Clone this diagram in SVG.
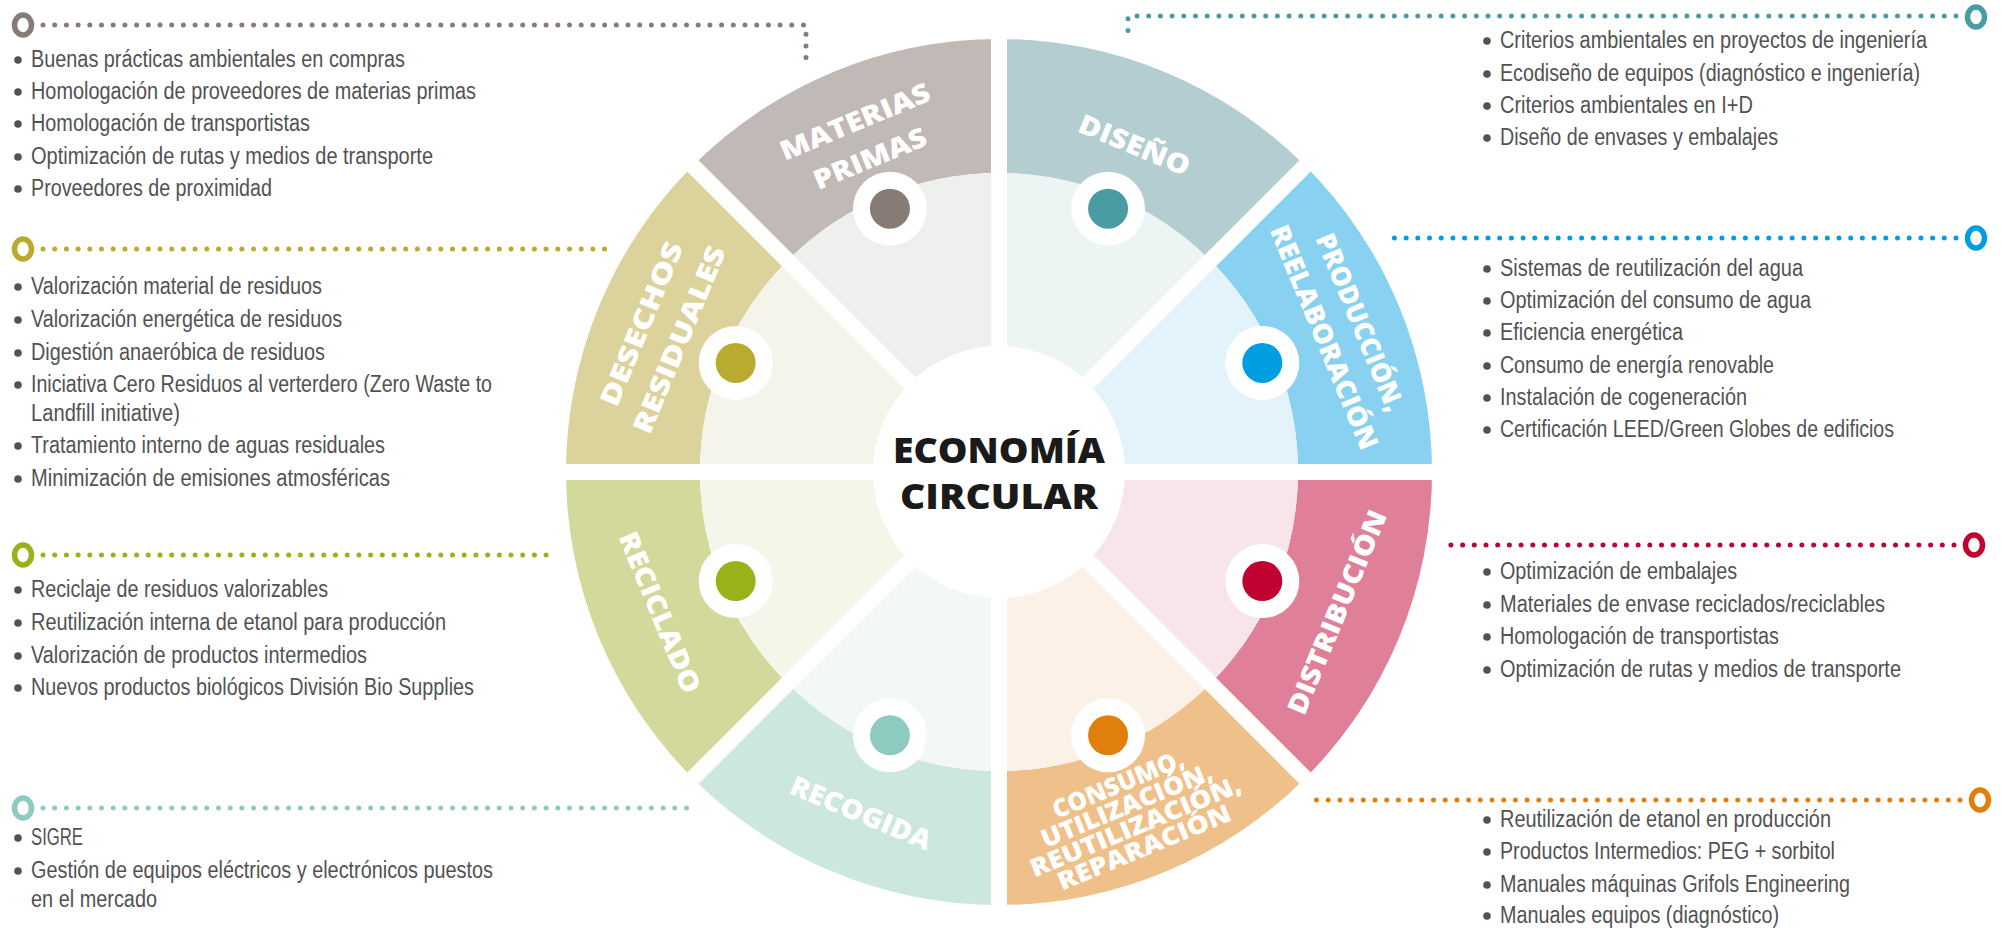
<svg xmlns="http://www.w3.org/2000/svg" width="2002" height="928" viewBox="0 0 2002 928">
<style>
.lst{font-family:"Liberation Sans Narrow","Liberation Sans",Arial,sans-serif;font-size:23px;fill:#525252}
.bul{fill:#525252}
.lbl{font-family:"Open Sans","DejaVu Sans",sans-serif;font-weight:800;font-size:27px;fill:#ffffff;text-anchor:middle}
.lbs{font-family:"Open Sans","DejaVu Sans",sans-serif;font-weight:800;font-size:25px;fill:#ffffff;text-anchor:middle}
.ctr{font-family:"Open Sans","DejaVu Sans",sans-serif;font-weight:800;font-size:36px;fill:#1a1a1a;text-anchor:middle}
.dots{fill:none;stroke-width:5;stroke-linecap:round;stroke-dasharray:0 11.7}
.ring{fill:none;stroke-width:5.5}
.mk{fill:#ffffff}
.sep{stroke:#ffffff;stroke-width:16;fill:none}
</style>
<rect width="2002" height="928" fill="#ffffff"/>

<!-- connectors -->
<g id="connectors">
  <path class="dots" stroke="#877b76" d="M43 25 H806 V64"/>
  <ellipse class="ring" stroke="#877b76" cx="23" cy="25" rx="8.5" ry="10"/>
  <path class="dots" stroke="#b9aa30" d="M43 249 H608"/>
  <ellipse class="ring" stroke="#b9aa30" cx="23" cy="249" rx="8.5" ry="10"/>
  <path class="dots" stroke="#9ab21a" d="M43 555 H556"/>
  <ellipse class="ring" stroke="#9ab21a" cx="23" cy="555" rx="8.5" ry="10"/>
  <path class="dots" stroke="#8dcac0" d="M43 808 H697"/>
  <ellipse class="ring" stroke="#8dcac0" cx="23" cy="808" rx="8.5" ry="10"/>
  <path class="dots" stroke="#4a9ca4" d="M1956 16 H1128 V38"/>
  <ellipse class="ring" stroke="#4a9ca4" cx="1976" cy="17" rx="8.5" ry="10"/>
  <path class="dots" stroke="#009ee0" d="M1956 238 H1386"/>
  <ellipse class="ring" stroke="#009ee0" cx="1976" cy="238" rx="8.5" ry="10"/>
  <path class="dots" stroke="#c10230" d="M1954 545 H1445"/>
  <ellipse class="ring" stroke="#c10230" cx="1974" cy="545" rx="8.5" ry="10"/>
  <path class="dots" stroke="#e07f0c" d="M1960 800 H1310"/>
  <ellipse class="ring" stroke="#e07f0c" cx="1980" cy="800" rx="8.5" ry="10"/>
</g>

<!-- wheel sectors -->
<g id="diseno">
  <path fill="#b3cdd1" d="M999,39 A433,433 0 0 1 1305.18,165.82 L1210.43,260.57 A299,299 0 0 0 999,173 Z"/>
  <path fill="#edf4f4" d="M999,472 L999,173 A299,299 0 0 1 1210.43,260.57 Z"/>
  <g transform="translate(1134.5,145) rotate(22.5)"><text class="lbl" x="0" y="9.5" textLength="118" lengthAdjust="spacingAndGlyphs">DISEÑO</text></g>
</g>
<g id="produccion">
  <path fill="#89d1f0" d="M1305.18,165.82 A433,433 0 0 1 1432,472 L1298,472 A299,299 0 0 0 1210.43,260.57 Z"/>
  <path fill="#e3f3fb" d="M999,472 L1210.43,260.57 A299,299 0 0 1 1298,472 Z"/>
  <g transform="translate(1360.2,322.4) rotate(67.5)"><text class="lbl" x="0" y="9.5" textLength="190" lengthAdjust="spacingAndGlyphs">PRODUCCIÓN,</text></g>
  <g transform="translate(1324.2,337.3) rotate(67.5)"><text class="lbl" x="0" y="9.5" textLength="240" lengthAdjust="spacingAndGlyphs">REELABORACIÓN</text></g>
</g>
<g id="distribucion">
  <path fill="#df8098" d="M1432,472 A433,433 0 0 1 1305.18,778.18 L1210.43,683.43 A299,299 0 0 0 1298,472 Z"/>
  <path fill="#f8e5ea" d="M999,472 L1298,472 A299,299 0 0 1 1210.43,683.43 Z"/>
  <g transform="translate(1337.1,612.1) rotate(-67.5)"><text class="lbl" x="0" y="9.5" textLength="218" lengthAdjust="spacingAndGlyphs">DISTRIBUCIÓN</text></g>
</g>
<g id="consumo">
  <path fill="#f0c08b" d="M1305.18,778.18 A433,433 0 0 1 999,905 L999,771 A299,299 0 0 0 1210.43,683.43 Z"/>
  <path fill="#fcf1e7" d="M999,472 L1210.43,683.43 A299,299 0 0 1 999,771 Z"/>
  <g transform="translate(1118,784) rotate(-22.5)"><text class="lbs" x="0" y="9" textLength="140" lengthAdjust="spacingAndGlyphs">CONSUMO,</text></g>
  <g transform="translate(1126.7,805) rotate(-22.5)"><text class="lbs" x="0" y="9" textLength="183" lengthAdjust="spacingAndGlyphs">UTILIZACIÓN,</text></g>
  <g transform="translate(1135.4,826) rotate(-22.5)"><text class="lbs" x="0" y="9" textLength="226" lengthAdjust="spacingAndGlyphs">REUTILIZACIÓN,</text></g>
  <g transform="translate(1144.1,847) rotate(-22.5)"><text class="lbs" x="0" y="9" textLength="185" lengthAdjust="spacingAndGlyphs">REPARACIÓN</text></g>
</g>
<g id="recogida">
  <path fill="#cce6e0" d="M999,905 A433,433 0 0 1 692.82,778.18 L787.57,683.43 A299,299 0 0 0 999,771 Z"/>
  <path fill="#f3f8f6" d="M999,472 L999,771 A299,299 0 0 1 787.57,683.43 Z"/>
  <g transform="translate(861,813) rotate(22.5)"><text class="lbl" x="0" y="9.5" textLength="150" lengthAdjust="spacingAndGlyphs">RECOGIDA</text></g>
</g>
<g id="reciclado">
  <path fill="#d3d99b" d="M692.82,778.18 A433,433 0 0 1 566,472 L700,472 A299,299 0 0 0 787.57,683.43 Z"/>
  <path fill="#f5f6ea" d="M999,472 L787.57,683.43 A299,299 0 0 1 700,472 Z"/>
  <g transform="translate(659.9,612.4) rotate(67.5)"><text class="lbl" x="0" y="9.5" textLength="172" lengthAdjust="spacingAndGlyphs">RECICLADO</text></g>
</g>
<g id="desechos">
  <path fill="#dcd39c" d="M566,472 A433,433 0 0 1 692.82,165.82 L787.57,260.57 A299,299 0 0 0 700,472 Z"/>
  <path fill="#f5f4ea" d="M999,472 L700,472 A299,299 0 0 1 787.57,260.57 Z"/>
  <g transform="translate(641.5,323.9) rotate(-67.5)"><text class="lbl" x="0" y="9.5" textLength="175" lengthAdjust="spacingAndGlyphs">DESECHOS</text></g>
  <g transform="translate(679.3,339.6) rotate(-67.5)"><text class="lbl" x="0" y="9.5" textLength="200" lengthAdjust="spacingAndGlyphs">RESIDUALES</text></g>
</g>
<g id="materias">
  <path fill="#c1b9b6" d="M692.82,165.82 A433,433 0 0 1 999,39 L999,173 A299,299 0 0 0 787.57,260.57 Z"/>
  <path fill="#efefed" d="M999,472 L787.57,260.57 A299,299 0 0 1 999,173 Z"/>
  <g transform="translate(855,121.5) rotate(-22.5)"><text class="lbl" x="0" y="9.5" textLength="160" lengthAdjust="spacingAndGlyphs">MATERIAS</text></g>
  <g transform="translate(870,158.5) rotate(-22.5)"><text class="lbl" x="0" y="9.5" textLength="120" lengthAdjust="spacingAndGlyphs">PRIMAS</text></g>
</g>

<!-- separators and centre -->
<g id="separators">
  <path class="sep" d="M999,28 V916 M555,472 H1443 M687.9,783.1 L1310.1,160.9 M687.9,160.9 L1310.1,783.1"/>
</g>
<g id="markers">
  <circle class="mk" cx="1108.07" cy="208.69" r="37"/><circle fill="#4a9ca4" cx="1108.07" cy="208.69" r="20"/>
  <circle class="mk" cx="1262.31" cy="362.93" r="37"/><circle fill="#009ee0" cx="1262.31" cy="362.93" r="20"/>
  <circle class="mk" cx="1262.31" cy="581.07" r="37"/><circle fill="#c10230" cx="1262.31" cy="581.07" r="20"/>
  <circle class="mk" cx="1108.07" cy="735.31" r="37"/><circle fill="#e07f0c" cx="1108.07" cy="735.31" r="20"/>
  <circle class="mk" cx="889.93" cy="735.31" r="37"/><circle fill="#8dcac0" cx="889.93" cy="735.31" r="20"/>
  <circle class="mk" cx="735.69" cy="581.07" r="37"/><circle fill="#9ab21a" cx="735.69" cy="581.07" r="20"/>
  <circle class="mk" cx="735.69" cy="362.93" r="37"/><circle fill="#b9aa30" cx="735.69" cy="362.93" r="20"/>
  <circle class="mk" cx="889.93" cy="208.69" r="37"/><circle fill="#877b76" cx="889.93" cy="208.69" r="20"/>
</g>
<g id="centro">
  <circle fill="#ffffff" cx="999" cy="472" r="126"/>
  <text class="ctr" x="999" y="463" textLength="212" lengthAdjust="spacingAndGlyphs">ECONOMÍA</text>
  <text class="ctr" x="999" y="509" textLength="198" lengthAdjust="spacingAndGlyphs">CIRCULAR</text>
</g>

<!-- lists -->
<g id="lista-materias">
  <circle class="bul" cx="18" cy="60" r="3.8"/><text class="lst" x="31" y="67" textLength="374" lengthAdjust="spacingAndGlyphs">Buenas prácticas ambientales en compras</text>
  <circle class="bul" cx="18" cy="92" r="3.8"/><text class="lst" x="31" y="99" textLength="445" lengthAdjust="spacingAndGlyphs">Homologación de proveedores de materias primas</text>
  <circle class="bul" cx="18" cy="124" r="3.8"/><text class="lst" x="31" y="131" textLength="279" lengthAdjust="spacingAndGlyphs">Homologación de transportistas</text>
  <circle class="bul" cx="18" cy="157" r="3.8"/><text class="lst" x="31" y="164" textLength="402" lengthAdjust="spacingAndGlyphs">Optimización de rutas y medios de transporte</text>
  <circle class="bul" cx="18" cy="189" r="3.8"/><text class="lst" x="31" y="196" textLength="241" lengthAdjust="spacingAndGlyphs">Proveedores de proximidad</text>
</g>
<g id="lista-desechos">
  <circle class="bul" cx="18" cy="287" r="3.8"/><text class="lst" x="31" y="294" textLength="291" lengthAdjust="spacingAndGlyphs">Valorización material de residuos</text>
  <circle class="bul" cx="18" cy="320" r="3.8"/><text class="lst" x="31" y="327" textLength="311" lengthAdjust="spacingAndGlyphs">Valorización energética de residuos</text>
  <circle class="bul" cx="18" cy="353" r="3.8"/><text class="lst" x="31" y="360" textLength="294" lengthAdjust="spacingAndGlyphs">Digestión anaeróbica de residuos</text>
  <circle class="bul" cx="18" cy="385" r="3.8"/><text class="lst" x="31" y="392" textLength="461" lengthAdjust="spacingAndGlyphs">Iniciativa Cero Residuos al verterdero (Zero Waste to</text>
  <text class="lst" x="31" y="421" textLength="149" lengthAdjust="spacingAndGlyphs">Landfill initiative)</text>
  <circle class="bul" cx="18" cy="446" r="3.8"/><text class="lst" x="31" y="453" textLength="354" lengthAdjust="spacingAndGlyphs">Tratamiento interno de aguas residuales</text>
  <circle class="bul" cx="18" cy="479" r="3.8"/><text class="lst" x="31" y="486" textLength="359" lengthAdjust="spacingAndGlyphs">Minimización de emisiones atmosféricas</text>
</g>
<g id="lista-reciclado">
  <circle class="bul" cx="18" cy="590" r="3.8"/><text class="lst" x="31" y="597" textLength="297" lengthAdjust="spacingAndGlyphs">Reciclaje de residuos valorizables</text>
  <circle class="bul" cx="18" cy="623" r="3.8"/><text class="lst" x="31" y="630" textLength="415" lengthAdjust="spacingAndGlyphs">Reutilización interna de etanol para producción</text>
  <circle class="bul" cx="18" cy="656" r="3.8"/><text class="lst" x="31" y="663" textLength="336" lengthAdjust="spacingAndGlyphs">Valorización de productos intermedios</text>
  <circle class="bul" cx="18" cy="688" r="3.8"/><text class="lst" x="31" y="695" textLength="443" lengthAdjust="spacingAndGlyphs">Nuevos productos biológicos División Bio Supplies</text>
</g>
<g id="lista-recogida">
  <circle class="bul" cx="18" cy="838" r="3.8"/><text class="lst" x="31" y="845" textLength="52" lengthAdjust="spacingAndGlyphs">SIGRE</text>
  <circle class="bul" cx="18" cy="871" r="3.8"/><text class="lst" x="31" y="878" textLength="462" lengthAdjust="spacingAndGlyphs">Gestión de equipos eléctricos y electrónicos puestos</text>
  <text class="lst" x="31" y="907" textLength="126" lengthAdjust="spacingAndGlyphs">en el mercado</text>
</g>
<g id="lista-diseno">
  <circle class="bul" cx="1487" cy="41" r="3.8"/><text class="lst" x="1500" y="48" textLength="427" lengthAdjust="spacingAndGlyphs">Criterios ambientales en proyectos de ingeniería</text>
  <circle class="bul" cx="1487" cy="74" r="3.8"/><text class="lst" x="1500" y="81" textLength="420" lengthAdjust="spacingAndGlyphs">Ecodiseño de equipos (diagnóstico e ingeniería)</text>
  <circle class="bul" cx="1487" cy="106" r="3.8"/><text class="lst" x="1500" y="113" textLength="253" lengthAdjust="spacingAndGlyphs">Criterios ambientales en I+D</text>
  <circle class="bul" cx="1487" cy="138" r="3.8"/><text class="lst" x="1500" y="145" textLength="278" lengthAdjust="spacingAndGlyphs">Diseño de envases y embalajes</text>
</g>
<g id="lista-produccion">
  <circle class="bul" cx="1487" cy="269" r="3.8"/><text class="lst" x="1500" y="276" textLength="303" lengthAdjust="spacingAndGlyphs">Sistemas de reutilización del agua</text>
  <circle class="bul" cx="1487" cy="301" r="3.8"/><text class="lst" x="1500" y="308" textLength="311" lengthAdjust="spacingAndGlyphs">Optimización del consumo de agua</text>
  <circle class="bul" cx="1487" cy="333" r="3.8"/><text class="lst" x="1500" y="340" textLength="183" lengthAdjust="spacingAndGlyphs">Eficiencia energética</text>
  <circle class="bul" cx="1487" cy="366" r="3.8"/><text class="lst" x="1500" y="373" textLength="274" lengthAdjust="spacingAndGlyphs">Consumo de energía renovable</text>
  <circle class="bul" cx="1487" cy="398" r="3.8"/><text class="lst" x="1500" y="405" textLength="247" lengthAdjust="spacingAndGlyphs">Instalación de cogeneración</text>
  <circle class="bul" cx="1487" cy="430" r="3.8"/><text class="lst" x="1500" y="437" textLength="394" lengthAdjust="spacingAndGlyphs">Certificación LEED/Green Globes de edificios</text>
</g>
<g id="lista-distribucion">
  <circle class="bul" cx="1487" cy="572" r="3.8"/><text class="lst" x="1500" y="579" textLength="237" lengthAdjust="spacingAndGlyphs">Optimización de embalajes</text>
  <circle class="bul" cx="1487" cy="605" r="3.8"/><text class="lst" x="1500" y="612" textLength="385" lengthAdjust="spacingAndGlyphs">Materiales de envase reciclados/reciclables</text>
  <circle class="bul" cx="1487" cy="637" r="3.8"/><text class="lst" x="1500" y="644" textLength="279" lengthAdjust="spacingAndGlyphs">Homologación de transportistas</text>
  <circle class="bul" cx="1487" cy="670" r="3.8"/><text class="lst" x="1500" y="677" textLength="401" lengthAdjust="spacingAndGlyphs">Optimización de rutas y medios de transporte</text>
</g>
<g id="lista-consumo">
  <circle class="bul" cx="1487" cy="820" r="3.8"/><text class="lst" x="1500" y="827" textLength="331" lengthAdjust="spacingAndGlyphs">Reutilización de etanol en producción</text>
  <circle class="bul" cx="1487" cy="852" r="3.8"/><text class="lst" x="1500" y="859" textLength="335" lengthAdjust="spacingAndGlyphs">Productos Intermedios: PEG + sorbitol</text>
  <circle class="bul" cx="1487" cy="885" r="3.8"/><text class="lst" x="1500" y="892" textLength="350" lengthAdjust="spacingAndGlyphs">Manuales máquinas Grifols Engineering</text>
  <circle class="bul" cx="1487" cy="916" r="3.8"/><text class="lst" x="1500" y="923" textLength="279" lengthAdjust="spacingAndGlyphs">Manuales equipos (diagnóstico)</text>
</g>
</svg>
